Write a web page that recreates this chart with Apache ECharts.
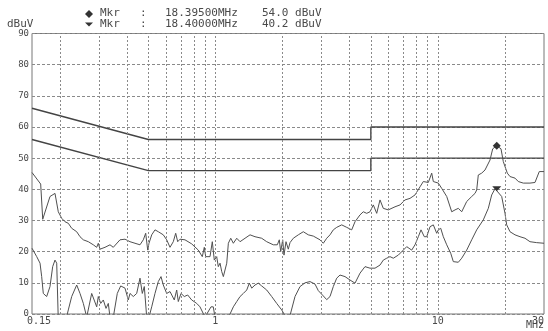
<!DOCTYPE html>
<html>
<head>
<meta charset="utf-8">
<script src="https://cdn.jsdelivr.net/npm/echarts@6/dist/echarts.min.js"></script>
<style>
html,body{margin:0;padding:0;background:#fff;}
#chart{width:548px;height:331px;}
</style>
</head>
<body>
<div id="chart"></div>
<script>
// ---- data ----
const upperFreq = [0.15,0.1641,0.1676,0.1807,0.1903,0.1937,0.1969,0.204,0.2111,0.2184,0.2262,0.2382,0.2465,0.2551,0.2686,0.2829,0.293,0.2979,0.3032,0.3193,0.3362,0.3479,0.3729,0.3927,0.4136,0.4355,0.4586,0.4746,0.4865,0.4967,0.5034,0.5177,0.5356,0.5543,0.5837,0.6046,0.6256,0.6473,0.6636,0.6775,0.6938,0.7306,0.7831,0.8384,0.8739,0.8922,0.9052,0.9464,0.9692,0.9894,1.0143,1.0313,1.05,1.0687,1.0865,1.1058,1.1254,1.1442,1.173,1.205,1.2481,1.2914,1.36,1.4323,1.5077,1.6158,1.7016,1.8219,1.899,1.9387,1.967,2.0081,2.0353,2.0779,2.1279,2.1657,2.2409,2.36,2.4854,2.6174,2.7564,2.8053,2.9543,3.057,3.1665,3.2765,3.3902,3.5118,3.6983,3.8946,4.1015,4.244,4.4693,4.6244,4.79,4.9564,5.1286,5.3122,5.4967,5.6877,5.9897,6.42,6.761,7.1201,7.4983,7.8965,8.3157,8.6045,9.0614,9.3859,9.5427,10.05,10.41,10.963,11.545,11.946,12.361,12.803,13.483,14.199,14.693,14.951,15.201,15.745,16.293,17.157,17.643,18.395,19.224,19.688,20.52,21.102,22.221,22.994,24.215,25.949,27.326,28.569,30];
const upperLevel = [45.4,41.7,30.4,37.7,38.7,38.2,32.8,30.7,29.6,29.1,27.5,26.4,24.8,23.8,23.2,22.2,21.4,22.7,20.8,21.4,22.2,21.4,23.8,24.0,23.2,22.7,22.2,23.8,25.9,20.5,22.7,25.4,27.0,26.4,25.4,23.8,21.4,23.2,25.9,23.2,24.0,23.8,22.5,20.5,18.4,21.4,18.4,18.4,23.2,17.3,18.4,15.2,16.3,13.6,12.0,12.0,16.3,22.7,24.3,22.7,24.3,23.2,24.3,25.4,24.8,24.3,23.2,22.2,22.2,23.8,20.0,23.8,18.9,23.2,20.8,22.9,24.3,25.4,26.4,25.4,25.0,25.2,23.8,22.7,24.3,25.4,27.0,27.8,28.6,27.8,27.0,29.6,31.8,32.8,32.3,32.8,35.0,32.3,36.6,33.9,33.4,34.4,35.0,36.6,37.1,38.2,40.8,42.5,42.2,45.2,42.5,42.0,40.3,37.7,32.8,33.4,33.9,32.8,36.1,37.7,38.7,39.8,44.6,45.2,46.2,49.4,53.0,54.0,53.0,48.9,45.2,44.1,43.6,42.5,42.0,42.0,42.2,45.7,45.7];

const lowerFreq = [0.15,0.1531,0.1575,0.163,0.1658,0.1686,0.1746,0.1776,0.1807,0.1858,0.1903,0.1937,0.1969,0.2111,0.2184,0.2262,0.2382,0.2465,0.2551,0.2642,0.2782,0.2829,0.293,0.2979,0.3054,0.3137,0.3226,0.3304,0.3362,0.3479,0.3626,0.3756,0.3927,0.4063,0.4136,0.4279,0.4432,0.4586,0.4697,0.4795,0.4916,0.5034,0.5177,0.5356,0.5543,0.570,0.5837,0.6046,0.6256,0.654,0.6705,0.6817,0.701,0.7254,0.7513,0.7831,0.8247,0.8533,0.8987,0.9562,0.9792,0.9966,1.1058,1.1645,1.205,1.2481,1.2914,1.3363,1.3842,1.4219,1.4577,1.5077,1.56,1.6158,1.7016,1.792,1.8872,1.9875,2.0565,2.1657,2.2807,2.4019,2.5295,2.6639,2.8053,2.9028,3.057,3.1665,3.2765,3.3902,3.5118,3.6338,3.8267,4.03,4.244,4.4693,4.7065,4.9564,5.2196,5.4967,5.6877,5.8914,6.0961,6.3079,6.6432,6.9959,7.2465,7.6314,7.8965,8.1707,8.4023,8.6939,8.9125,9.2222,9.5427,9.8843,10.05,10.303,10.584,10.963,11.426,11.737,12.361,12.803,13.483,14.199,14.951,16.008,16.858,17.461,18.068,18.4,19.364,20.037,20.393,21.102,22.221,23.402,24.645,25.949,27.812,30];
const lowerLevel = [21.1,21.4,18.4,16.3,12.0,6.6,5.6,5.3,8.8,15.2,17.3,16.3,-2,-3,1.3,5.6,9.3,6.6,3.4,-1,6.6,6.1,2.3,5.6,3.4,4.5,1.8,3.4,-1,-1,6.6,9.0,8.3,4.5,6.6,5.6,6.6,11.5,6.6,8.8,-1,-1,2.3,6.6,10.4,12.0,9.3,6.6,7.2,4.5,7.7,4.0,6.6,5.6,6.1,4.5,3.4,2.3,-1,2.3,2.3,-1,-2,0,2.3,4.0,5.6,6.6,7.7,9.9,8.3,9.3,9.9,9.0,7.7,5.6,3.4,1.3,-0.5,-0.5,5.6,8.8,10.0,10.4,9.6,7.5,5.8,4.6,5.6,8.8,11.5,12.5,12.0,10.9,9.9,13.1,15.2,14.7,14.7,15.7,17.3,17.9,18.4,17.9,18.9,20.5,21.6,20.5,22.2,24.8,27.0,24.8,24.8,28.0,28.6,25.9,27.0,27.5,24.8,22.2,19.5,16.8,16.6,17.9,20.5,23.8,27.0,30.2,33.9,38.2,40.2,40.2,37.7,32.3,28.6,26.4,25.4,24.8,24.3,23.2,22.9,22.7];

const qpLimitFreq = [0.15, 0.5, 5, 5, 30];
const qpLimitLevel = [66, 56, 56, 60, 60];
const avLimitFreq = [0.15, 0.5, 5, 5, 30];
const avLimitLevel = [56, 46, 46, 50, 50];

const gridFreqs = [0.2,0.3,0.4,0.5,0.6,0.7,0.8,0.9,1,2,3,4,5,6,7,8,9,10,20];

const markerFreq = [18.395, 18.4];
const markerLevel = [54.0, 40.2];

const yMin = 0, yMax = 90, yStep = 10;
const xMin = 0.15, xMax = 30;
const xUnit = 'MHz', yUnit = 'dBuV';

// ---- build ----
const zip = (a, b) => a.map((v, i) => [v, b[i]]);
const FONT = 'DejaVu Sans Mono';
const TXT = '#4a4a4a';

const chart = echarts.init(document.getElementById('chart'), null, {renderer: 'canvas'});

const headerGraphics = [];
const rowY = [14, 24.5];
markerFreq.forEach((f, i) => {
  const y = rowY[i];
  if (i === 0) {
    headerGraphics.push({type: 'polygon', shape: {points: [[89, y-4], [93, y], [89, y+4], [85, y]]}, style: {fill: '#333'}});
  } else {
    headerGraphics.push({type: 'polygon', shape: {points: [[85, y-2], [93, y-2], [89, y+2]]}, style: {fill: '#333'}});
  }
  const base = {fill: TXT, font: '11px ' + FONT};
  headerGraphics.push({type: 'text', left: 100, top: y - 6, style: Object.assign({text: 'Mkr'}, base)});
  headerGraphics.push({type: 'text', left: 140, top: y - 6, style: Object.assign({text: ':'}, base)});
  headerGraphics.push({type: 'text', left: 165, top: y - 6, style: Object.assign({text: f.toFixed(5) + 'MHz'}, base)});
  headerGraphics.push({type: 'text', left: 262, top: y - 6, style: Object.assign({text: markerLevel[i].toFixed(1) + ' ' + yUnit}, base)});
});
headerGraphics.push({type: 'text', left: 7, top: 19, style: {text: yUnit, fill: TXT, font: '11px ' + FONT}});
headerGraphics.push({type: 'text', right: 4, top: 320, style: {text: xUnit, fill: TXT, font: '10px ' + FONT}});

const option = {
  animation: false,
  backgroundColor: '#fff',
  grid: {left: 32, right: 4, top: 33.5, bottom: 17, containLabel: false, outerBoundsMode: 'none',
         show: true, borderColor: '#777', borderWidth: 1, backgroundColor: 'transparent'},
  graphic: headerGraphics,
  xAxis: {
    type: 'log', logBase: 10, min: xMin, max: xMax,
    axisLine: {show: false}, axisTick: {show: false},
    splitLine: {show: false}, minorSplitLine: {show: false},
    axisLabel: {
      show: true, showMinLabel: true, showMaxLabel: true, hideOverlap: false, margin: 2,
      alignMaxLabel: 'right',
      fontFamily: FONT, fontSize: 10, color: TXT,
      formatter: function (v) {
        if (v < 0.2) return '{m|0.15}';
        if (v > 25) return '30';
        return String(Math.round(v));
      },
      rich: {m: {fontFamily: FONT, fontSize: 10, color: TXT, padding: [0, 0, 0, 14]}}
    }
  },
  yAxis: {
    type: 'value', min: yMin, max: yMax, interval: yStep,
    axisLine: {show: false}, axisTick: {show: false},
    axisLabel: {margin: 3, fontFamily: FONT, fontSize: 9, color: TXT},
    splitLine: {show: true, lineStyle: {color: '#8a8a8a', width: 1, type: [3, 2]}}
  },
  series: [
    {
      name: 'grid', type: 'line', data: [], silent: true,
      markLine: {
        silent: true, symbol: ['none', 'none'], animation: false,
        label: {show: false},
        lineStyle: {color: '#8a8a8a', width: 1, type: [2, 2]},
        data: gridFreqs.map(f => ({xAxis: f}))
      }
    },
    {
      name: 'QP limit', type: 'line', data: zip(qpLimitFreq, qpLimitLevel),
      showSymbol: false, symbol: 'none', lineStyle: {color: '#444', width: 1.4}, z: 3
    },
    {
      name: 'AV limit', type: 'line', data: zip(avLimitFreq, avLimitLevel),
      showSymbol: false, symbol: 'none', lineStyle: {color: '#444', width: 1.4}, z: 3
    },
    {
      name: 'Peak', type: 'line', data: zip(upperFreq, upperLevel), clip: true,
      showSymbol: false, symbol: 'none', lineStyle: {color: '#505050', width: 1}, z: 4,
      markPoint: {
        symbol: 'diamond', symbolSize: 8, label: {show: false}, itemStyle: {color: '#333'},
        data: [{coord: [markerFreq[0], markerLevel[0]]}]
      }
    },
    {
      name: 'Average', type: 'line', data: zip(lowerFreq, lowerLevel), clip: true,
      showSymbol: false, symbol: 'none', lineStyle: {color: '#505050', width: 1}, z: 4,
      markPoint: {
        symbol: 'triangle', symbolRotate: 180, symbolSize: [9, 5], label: {show: false}, itemStyle: {color: '#333'},
        data: [{coord: [markerFreq[1], markerLevel[1]]}]
      }
    }
  ]
};
chart.setOption(option);
</script>
</body>
</html>
